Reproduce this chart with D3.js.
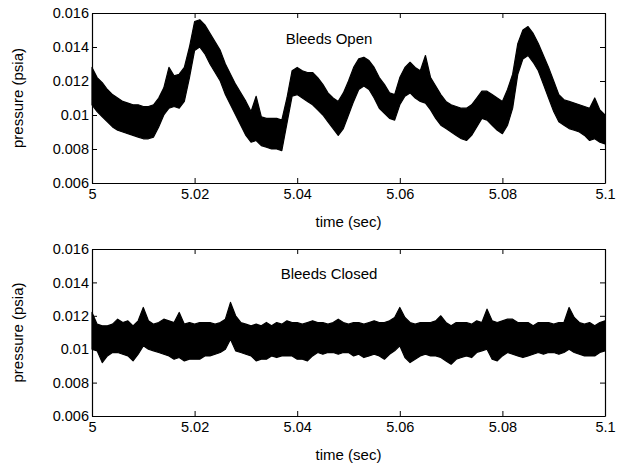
<!DOCTYPE html>
<html lang="en">
  <head>
    <meta charset="UTF-8" />
    <script src="https://d3js.org/d3.v7.min.js"></script>
    <title>Pressure vs time, bleeds open / closed</title>
    <style type="text/css">
      body { margin: 0; background: #fff; }
      svg text { font-family: 'Liberation Sans', Arial, sans-serif; fill: #000; }
    </style>
  </head>
  <body>
    <svg width="618" height="464"></svg>
  </body>
  <script type="text/javascript">
    // sample times (sec), one every 0.001 s
    const times = [
      5.000, 5.001, 5.002, 5.003, 5.004, 5.005, 5.006, 5.007, 5.008, 5.009,
      5.010, 5.011, 5.012, 5.013, 5.014, 5.015, 5.016, 5.017, 5.018, 5.019,
      5.020, 5.021, 5.022, 5.023, 5.024, 5.025, 5.026, 5.027, 5.028, 5.029,
      5.030, 5.031, 5.032, 5.033, 5.034, 5.035, 5.036, 5.037, 5.038, 5.039,
      5.040, 5.041, 5.042, 5.043, 5.044, 5.045, 5.046, 5.047, 5.048, 5.049,
      5.050, 5.051, 5.052, 5.053, 5.054, 5.055, 5.056, 5.057, 5.058, 5.059,
      5.060, 5.061, 5.062, 5.063, 5.064, 5.065, 5.066, 5.067, 5.068, 5.069,
      5.070, 5.071, 5.072, 5.073, 5.074, 5.075, 5.076, 5.077, 5.078, 5.079,
      5.080, 5.081, 5.082, 5.083, 5.084, 5.085, 5.086, 5.087, 5.088, 5.089,
      5.090, 5.091, 5.092, 5.093, 5.094, 5.095, 5.096, 5.097, 5.098, 5.099,
      5.100
    ];

    // bleeds open: top / bottom edge of the noisy trace (psia)
    const openHigh = [
      0.0128, 0.0122, 0.0119, 0.0115, 0.0112, 0.0110, 0.0108, 0.0107, 0.0106, 0.0106,
      0.0105, 0.0105, 0.0106, 0.0110, 0.0116, 0.0128, 0.0123, 0.0124, 0.0128, 0.0140,
      0.0155, 0.0156, 0.0153, 0.0148, 0.0143, 0.0138, 0.0130, 0.0124, 0.0118, 0.0113,
      0.0108, 0.0102, 0.0111, 0.0099, 0.0098, 0.0098, 0.0098, 0.0097, 0.0110, 0.0126,
      0.0128, 0.0126, 0.0125, 0.0125, 0.0122, 0.0118, 0.0113, 0.0110, 0.0108, 0.0113,
      0.0120, 0.0128, 0.0133, 0.0134, 0.0132, 0.0128, 0.0122, 0.0118, 0.0113, 0.0112,
      0.0122, 0.0128, 0.0131, 0.0128, 0.0126, 0.0135, 0.0122, 0.0117, 0.0112, 0.0108,
      0.0106, 0.0105, 0.0104, 0.0104, 0.0106, 0.0110, 0.0114, 0.0114, 0.0112, 0.0110,
      0.0108, 0.0115, 0.0124, 0.0142, 0.0150, 0.0152, 0.0148, 0.0142, 0.0135, 0.0128,
      0.0120, 0.0112, 0.0109, 0.0108, 0.0107, 0.0106, 0.0105, 0.0104, 0.0110, 0.0103,
      0.0100
    ];
    const openLow = [
      0.0106, 0.0102, 0.0099, 0.0096, 0.0093, 0.0091, 0.0090, 0.0089, 0.0088, 0.0087,
      0.0086, 0.0086, 0.0087, 0.0093, 0.0100, 0.0104, 0.0105, 0.0104, 0.0108, 0.0122,
      0.0138, 0.0140, 0.0136, 0.0130, 0.0125, 0.0120, 0.0112, 0.0106, 0.0100, 0.0094,
      0.0088, 0.0084, 0.0085, 0.0082, 0.0081, 0.0080, 0.0080, 0.0079, 0.0095, 0.0111,
      0.0112, 0.0110, 0.0108, 0.0106, 0.0103, 0.0100, 0.0096, 0.0092, 0.0088, 0.0092,
      0.0100, 0.0108, 0.0115, 0.0117, 0.0115, 0.0110, 0.0104, 0.0101, 0.0098, 0.0097,
      0.0106, 0.0111, 0.0113, 0.0110, 0.0108, 0.0107, 0.0103, 0.0098, 0.0094, 0.0092,
      0.0090, 0.0088, 0.0086, 0.0085, 0.0088, 0.0093, 0.0098, 0.0097, 0.0094, 0.0091,
      0.0089, 0.0094, 0.0104, 0.0124, 0.0133, 0.0135, 0.0131, 0.0126, 0.0118, 0.0110,
      0.0102, 0.0096, 0.0094, 0.0092, 0.0091, 0.0090, 0.0088, 0.0085, 0.0086, 0.0084,
      0.0083
    ];

    // bleeds closed: top / bottom edge of the noisy trace (psia)
    const closedHigh = [
      0.0122, 0.0115, 0.0114, 0.0114, 0.0115, 0.0118, 0.0116, 0.0117, 0.0114, 0.0117,
      0.0125, 0.0117, 0.0115, 0.0116, 0.0118, 0.0117, 0.0116, 0.0122, 0.0115, 0.0116,
      0.0115, 0.0116, 0.0116, 0.0116, 0.0115, 0.0116, 0.0118, 0.0128, 0.0120, 0.0116,
      0.0115, 0.0114, 0.0115, 0.0114, 0.0116, 0.0114, 0.0116, 0.0115, 0.0117, 0.0116,
      0.0116, 0.0115, 0.0116, 0.0117, 0.0116, 0.0116, 0.0115, 0.0116, 0.0118, 0.0116,
      0.0115, 0.0116, 0.0116, 0.0115, 0.0116, 0.0117, 0.0116, 0.0116, 0.0117, 0.0119,
      0.0125, 0.0119, 0.0116, 0.0115, 0.0116, 0.0116, 0.0116, 0.0117, 0.0120, 0.0116,
      0.0114, 0.0116, 0.0116, 0.0116, 0.0115, 0.0117, 0.0116, 0.0124, 0.0117, 0.0116,
      0.0117, 0.0118, 0.0118, 0.0116, 0.0116, 0.0116, 0.0114, 0.0116, 0.0116, 0.0116,
      0.0115, 0.0116, 0.0116, 0.0125, 0.0119, 0.0116, 0.0115, 0.0116, 0.0114, 0.0116,
      0.0117
    ];
    const closedLow = [
      0.0100, 0.0099, 0.0092, 0.0096, 0.0098, 0.0098, 0.0097, 0.0096, 0.0093, 0.0097,
      0.0102, 0.0100, 0.0099, 0.0098, 0.0097, 0.0096, 0.0094, 0.0095, 0.0093, 0.0094,
      0.0094, 0.0094, 0.0096, 0.0096, 0.0097, 0.0098, 0.0100, 0.0106, 0.0099, 0.0098,
      0.0097, 0.0096, 0.0093, 0.0094, 0.0094, 0.0096, 0.0095, 0.0096, 0.0096, 0.0096,
      0.0094, 0.0094, 0.0093, 0.0096, 0.0098, 0.0097, 0.0098, 0.0098, 0.0097, 0.0098,
      0.0098, 0.0096, 0.0097, 0.0095, 0.0096, 0.0097, 0.0096, 0.0094, 0.0097, 0.0099,
      0.0102, 0.0095, 0.0092, 0.0094, 0.0096, 0.0097, 0.0096, 0.0096, 0.0095, 0.0093,
      0.0091, 0.0094, 0.0095, 0.0096, 0.0095, 0.0098, 0.0099, 0.0100, 0.0094, 0.0093,
      0.0096, 0.0098, 0.0097, 0.0096, 0.0095, 0.0096, 0.0097, 0.0098, 0.0097, 0.0098,
      0.0098, 0.0097, 0.0098, 0.0100, 0.0098, 0.0097, 0.0096, 0.0096, 0.0096, 0.0098,
      0.0099
    ];

    // ticks
    const xTicks = [5, 5.02, 5.04, 5.06, 5.08, 5.1];
    const xTickLabels = ['5', '5.02', '5.04', '5.06', '5.08', '5.1'];
    const yTicks = [0.006, 0.008, 0.01, 0.012, 0.014, 0.016];
    const yTickLabels = ['0.006', '0.008', '0.01', '0.012', '0.014', '0.016'];

    const svg = d3.select('svg');
    const left = 92;
    const plotW = 513;

    const x = d3.scaleLinear().domain([5, 5.1]).range([0, plotW]);

    function panel(top, h, high, low, title) {
      const y = d3.scaleLinear().domain([0.006, 0.016]).range([h, 0]);
      const g = svg.append('g').attr('transform', `translate(${left}, ${top})`);

      // trace as a filled band between the two edges
      const rows = times.map((t, i) => ({ t, hi: high[i], lo: low[i] }));
      g.append('path')
        .datum(rows)
        .attr('d', d3.area().x((d) => x(d.t)).y0((d) => y(d.lo)).y1((d) => y(d.hi)))
        .attr('fill', '#000')
        .attr('stroke', '#000')
        .attr('stroke-width', 1.2)
        .attr('stroke-linejoin', 'round');

      // matlab style box, ticks pointing in
      const fmtX = (d, i) => xTickLabels[i];
      const fmtY = (d, i) => yTickLabels[i];
      g.append('g')
        .attr('transform', `translate(0, ${h})`)
        .call(d3.axisBottom(x).tickValues(xTicks).tickFormat(fmtX).tickSizeInner(-5).tickSizeOuter(0).tickPadding(6));
      g.append('g')
        .call(d3.axisTop(x).tickValues(xTicks).tickFormat('').tickSizeInner(-5).tickSizeOuter(0));
      g.append('g')
        .call(d3.axisLeft(y).tickValues(yTicks).tickFormat(fmtY).tickSizeInner(-5).tickSizeOuter(0).tickPadding(3));
      g.append('g')
        .attr('transform', `translate(${plotW}, 0)`)
        .call(d3.axisRight(y).tickValues(yTicks).tickFormat('').tickSizeInner(-5).tickSizeOuter(0));

      g.selectAll('.domain').attr('stroke', '#000').attr('stroke-width', 1.2);
      g.selectAll('.tick line').attr('stroke', '#000');
      g.selectAll('.tick text').attr('font-size', 14.5).attr('fill', '#000');

      // labels
      g.append('text')
        .attr('x', x(5.0462))
        .attr('y', y(0.0142))
        .attr('text-anchor', 'middle')
        .attr('font-size', 15)
        .text(title);

      g.append('text')
        .attr('transform', `translate(-69, ${h / 2}) rotate(-90)`)
        .attr('text-anchor', 'middle')
        .attr('font-size', 15)
        .text('pressure (psia)');

      g.append('text')
        .attr('x', plotW / 2)
        .attr('y', h + 44)
        .attr('text-anchor', 'middle')
        .attr('font-size', 15)
        .text('time (sec)');
    }

    panel(13, 170, openHigh, openLow, 'Bleeds Open');
    panel(249, 167, closedHigh, closedLow, 'Bleeds Closed');
  </script>
</html>
